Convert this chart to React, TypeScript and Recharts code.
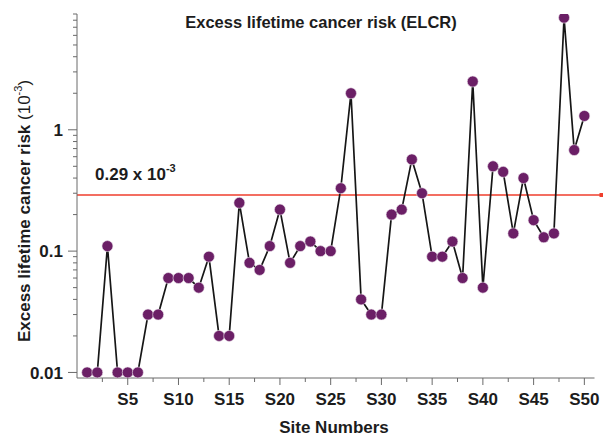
import React from 'react';
import { LineChart, Line, XAxis, YAxis, ReferenceLine } from 'recharts';

const siteNumbers = [1,2,3,4,5,6,7,8,9,10,11,12,13,14,15,16,17,18,19,20,21,22,23,24,25,26,27,28,29,30,31,32,33,34,35,36,37,38,39,40,41,42,43,44,45,46,47,48,49,50];
const elcrValues = [
  0.01, 0.01, 0.11, 0.01, 0.01, 0.01, 0.03, 0.03, 0.06, 0.06,
  0.06, 0.05, 0.09, 0.02, 0.02, 0.25, 0.08, 0.07, 0.11, 0.22,
  0.08, 0.11, 0.12, 0.10, 0.10, 0.33, 2.0, 0.04, 0.03, 0.03,
  0.20, 0.22, 0.57, 0.30, 0.09, 0.09, 0.12, 0.06, 2.5, 0.05,
  0.50, 0.45, 0.14, 0.40, 0.18, 0.13, 0.14, 8.4, 0.68, 1.3,
];
const thresholdValue = 0.29;
const xTicks = [2.5,5,7.5,10,12.5,15,17.5,20,22.5,25,27.5,30,32.5,35,37.5,40,42.5,45,47.5,50];
const yTicks = [0.01,0.02,0.03,0.04,0.05,0.06,0.07,0.08,0.09,0.1,0.2,0.3,0.4,0.5,0.6,0.7,0.8,0.9,1,2,3,4,5,6,7,8,9];
const yMajor = [0.01, 0.1, 1];
const yLabels: Record<string, string> = { '0.01': '0.01', '0.1': '0.1', '1': '1' };

const data = siteNumbers.map((s, i) => ({ site: s, elcr: elcrValues[i] }));

const FONT = '"Liberation Sans", Arial, sans-serif';
const AXIS = '#6a6a6a';
const TXT = '#1c1c1c';

const YTick = (props: any) => {
  const { x, y, payload } = props;
  const v = payload.value;
  const major = yMajor.some((m) => Math.abs(m - v) < 1e-9);
  const len = major ? 9 : 4;
  return (
    <g>
      <line x1={x - len} x2={x} y1={y} y2={y} stroke={AXIS} strokeWidth={1} />
      {major && (
        <text x={x - 14} y={y} dy="0.36em" textAnchor="end" fontFamily={FONT} fontWeight="bold" fontSize={17} fill={TXT}>
          {yLabels[String(v)]}
        </text>
      )}
    </g>
  );
};

const XTick = (props: any) => {
  const { x, y, payload } = props;
  const v = payload.value;
  const major = Math.abs(v % 5) < 1e-9;
  const len = major ? 7 : 4;
  return (
    <g>
      <line x1={x} x2={x} y1={y} y2={y + len} stroke={AXIS} strokeWidth={1} />
      {major && (
        <text x={x} y={y + 27} textAnchor="middle" fontFamily={FONT} fontWeight="bold" fontSize={17} fill={TXT}>
          {'S' + v}
        </text>
      )}
    </g>
  );
};

const ThresholdShape = (props: any) => {
  const { x1, x2, y1 } = props;
  const end = x2 + 7;
  return (
    <g>
      <line x1={x1} x2={end} y1={y1} y2={y1} stroke="#ef3e2c" strokeWidth={1.6} />
      <rect x={end - 2} y={y1 - 2} width={4} height={4} fill="#ef3e2c" />
      <text x={x1 + 18} y={y1 - 15} fontFamily={FONT} fontWeight="bold" fontSize={17} fill={TXT}>
        0.29 x 10
        <tspan fontSize={11} dy={-8}>-3</tspan>
      </text>
    </g>
  );
};

export default function App() {
  return (
    <div style={{ position: 'absolute', left: 0, top: 0, width: 603, height: 438, background: '#fff' }}>
      <LineChart
        width={603}
        height={438}
        data={data}
        margin={{ top: 14, right: 8.5, bottom: 30, left: 17 }}
      >
        <XAxis
          dataKey="site"
          type="number"
          domain={[0, 51]}
          ticks={xTicks}
          interval={0}
          tick={<XTick />}
          tickLine={false}
          tickSize={0}
          tickMargin={0}
          axisLine={{ stroke: AXIS, strokeWidth: 1 }}
          height={30}
          allowDataOverflow
        />
        <YAxis
          type="number"
          scale="log"
          domain={[0.009, 9]}
          ticks={yTicks}
          interval={0}
          tick={<YTick />}
          tickLine={false}
          tickSize={0}
          tickMargin={0}
          axisLine={{ stroke: AXIS, strokeWidth: 1 }}
          width={60}
          allowDataOverflow
        />
        <ReferenceLine y={thresholdValue} shape={<ThresholdShape />} ifOverflow="visible" />
        <Line
          type="linear"
          dataKey="elcr"
          stroke="#161616"
          strokeWidth={1.7}
          dot={{ r: 5.5, fill: '#6b1f66', stroke: '#efe6ee', strokeWidth: 0.6 }}
          activeDot={false}
          isAnimationActive={false}
        />
      </LineChart>
      <svg width={603} height={438} style={{ position: 'absolute', left: 0, top: 0, pointerEvents: 'none' }}>
        <text x={321} y={28} textAnchor="middle" fontFamily={FONT} fontWeight="bold" fontSize={16.5} fill={TXT}>
          Excess lifetime cancer risk (ELCR)
        </text>
        <text
          x={30}
          y={211}
          transform="rotate(-90, 30, 211)"
          textAnchor="middle"
          fontFamily={FONT}
          fontSize={17}
          fill={TXT}
        >
          <tspan fontWeight="bold">Excess lifetime cancer risk</tspan>
          <tspan> (10</tspan>
          <tspan fontSize={11} dy={-8}>-3</tspan>
          <tspan dy={8}>)</tspan>
        </text>
        <text x={334} y={433} textAnchor="middle" fontFamily={FONT} fontWeight="bold" fontSize={17} fill={TXT}>
          Site Numbers
        </text>
      </svg>
    </div>
  );
}
